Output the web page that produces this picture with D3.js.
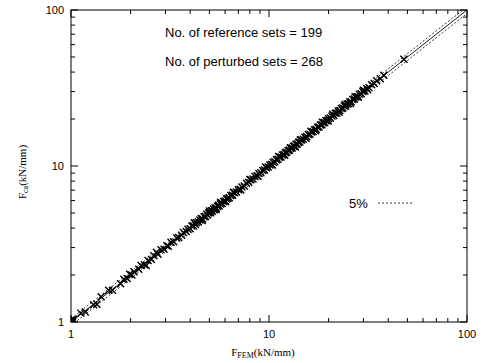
<!DOCTYPE html>
<html>
<head>
<meta charset="utf-8">
<script src="https://d3js.org/d3.v7.min.js"></script>
<style>
  body { margin: 0; background: #fff; }
  .tick-label { font-family: "Liberation Sans", Arial, sans-serif; font-size: 11px; }
  .title { font-family: "Liberation Serif", "Times New Roman", serif; font-size: 11px; }
  .note { font-family: "Liberation Sans", Arial, sans-serif; font-size: 13px; }
</style>
</head>
<body>
<div id="chart"></div>
<script>
// F_FEM (x) and F_ca (y), kN/mm
var fem = [1.0,1.01,1.0,1.02,0.99,1.01,1.03,1.0,1.02,0.99,1.12,1.18,1.3,1.35,1.42,1.55,1.62,1.78,1.85,1.92,1.98,
  2.03,2.08,2.2,2.26,2.35,2.4,2.45,2.55,2.62,2.7,2.75,2.85,2.95,3.05,3.1,3.2,3.3,3.42,3.5,3.62,3.7,3.82,3.9,
  4.0,4.08,4.15,4.25,4.3,4.4,4.48,4.55,4.62,4.7,4.78,4.85,4.9,4.96,5.02,5.08,5.12,5.18,5.25,5.3,5.35,5.42,5.5,
  5.55,5.6,5.68,5.75,5.8,5.9,6.0,6.1,6.2,6.3,6.42,6.55,6.7,6.85,7.0,7.15,7.3,7.5,7.7,7.9,8.1,8.3,8.5,8.7,8.9,
  9.1,9.3,9.5,9.7,9.9,10.1,10.3,10.5,10.7,10.9,11.1,11.3,11.5,11.7,11.9,12.1,12.3,12.5,12.7,12.9,13.1,13.3,
  13.5,13.7,13.9,14.1,14.3,14.6,14.9,15.2,15.5,15.8,16.1,16.4,16.7,17.0,17.3,17.6,17.9,18.2,18.5,18.8,19.1,
  19.4,19.7,20.0,20.4,20.8,21.2,21.6,22.0,22.4,22.8,23.2,23.6,24.0,24.4,24.8,25.2,25.6,26.0,26.5,27.0,27.5,
  28.0,28.6,29.2,29.8,30.5,31.2,32.0,33.0,34.0,35.0,36.5,38.0,48.0,
  4.2,4.6,5.0,5.4,5.7,6.05,6.6,7.2,8.0,8.8,9.6,10.4,11.2,12.0,12.8,13.6,14.4,15.4,16.3,17.2,18.6,19.9,
  21.0,22.6,24.2,25.8,27.2,28.3,30.0,31.5];
var ca = [1.0,1.02,0.98,1.0,1.01,0.99,1.04,1.03,1.03,0.99,1.14,1.16,1.29,1.3,1.45,1.6,1.6,1.76,1.88,1.9,2.02,
  2.0,2.1,2.18,2.3,2.33,2.3,2.48,2.52,2.66,2.8,2.72,2.9,2.93,3.08,3.06,3.24,3.27,3.45,3.48,3.6,3.75,3.8,3.93,
  3.96,4.12,4.14,4.22,4.35,4.38,4.5,4.6,4.58,4.72,4.75,4.9,4.86,5.0,5.05,5.02,5.16,5.15,5.3,5.24,5.4,5.38,5.52,
  5.6,5.54,5.7,5.8,5.74,5.92,5.96,6.15,6.18,6.26,6.46,6.5,6.74,6.82,7.05,7.1,7.34,7.45,7.74,7.86,8.15,8.25,8.56,8.65,8.95,
  9.05,9.36,9.44,9.76,9.85,10.16,10.24,10.56,10.64,10.95,11.05,11.38,11.42,11.76,11.84,12.18,12.24,12.56,12.62,12.98,13.05,13.4,
  13.42,13.8,13.84,14.2,14.24,14.68,14.82,15.3,15.44,15.9,16.0,16.5,16.62,17.1,17.2,17.72,17.8,18.3,18.4,18.9,19.0,
  19.5,19.6,20.1,20.3,20.95,21.1,21.75,21.9,22.55,22.7,23.35,23.5,24.2,24.25,25.0,25.05,25.8,25.85,26.7,26.85,27.7,
  27.8,28.8,29.0,30.0,30.3,31.4,31.8,33.2,33.8,35.2,36.3,38.2,48.3,
  4.32,4.48,5.14,5.26,5.86,5.9,6.78,7.02,8.2,8.6,9.85,10.15,11.5,11.7,13.1,13.25,14.75,15.05,16.7,16.8,19.05,19.45,
  21.5,22.1,24.75,25.2,27.8,27.7,30.6,30.8];
var bandLines = [1.05, 0.95];
var tickValues = [1, 10, 100];
var notes = ["No. of reference sets = 199", "No. of perturbed sets = 268"];

var W = 491, H = 363;
var pL = 71, pR = 467, pT = 10, pB = 322;

var svg = d3.select("#chart").append("svg").attr("width", W).attr("height", H);

var x = d3.scaleLog().domain([1, 100]).range([pL, pR]);
var y = d3.scaleLog().domain([1, 100]).range([pB, pT]);

svg.append("clipPath").attr("id", "clip").append("rect")
  .attr("x", pL).attr("y", pT).attr("width", pR - pL).attr("height", pB - pT);

// frame
svg.append("rect").attr("x", pL).attr("y", pT).attr("width", pR - pL).attr("height", pB - pT)
  .attr("fill", "none").attr("stroke", "#000").attr("stroke-width", 1);

// inward ticks on all four sides
var ticks = [];
[1, 10].forEach(function(d) { for (var k = 1; k <= 10; k++) ticks.push(d * k); });
ticks = Array.from(new Set(ticks));
ticks.forEach(function(t) {
  var len = tickValues.indexOf(t) >= 0 ? 7 : 4;
  svg.append("line").attr("x1", x(t)).attr("x2", x(t)).attr("y1", pB).attr("y2", pB - len).attr("stroke", "#000");
  svg.append("line").attr("x1", x(t)).attr("x2", x(t)).attr("y1", pT).attr("y2", pT + len).attr("stroke", "#000");
  svg.append("line").attr("y1", y(t)).attr("y2", y(t)).attr("x1", pL).attr("x2", pL + len).attr("stroke", "#000");
  svg.append("line").attr("y1", y(t)).attr("y2", y(t)).attr("x1", pR).attr("x2", pR - len).attr("stroke", "#000");
});

tickValues.forEach(function(t) {
  svg.append("text").attr("class", "tick-label").attr("x", x(t)).attr("y", pB + 16)
    .attr("text-anchor", "middle").text(t);
  svg.append("text").attr("class", "tick-label").attr("x", pL - 7).attr("y", y(t) + 4)
    .attr("text-anchor", "end").text(t);
});

var plot = svg.append("g").attr("clip-path", "url(#clip)");

// y = x and the 5% band
plot.append("line").attr("x1", x(1)).attr("y1", y(1)).attr("x2", x(100)).attr("y2", y(100))
  .attr("stroke", "#000").attr("stroke-width", 0.9);
bandLines.forEach(function(f) {
  plot.append("line").attr("x1", x(1)).attr("y1", y(f)).attr("x2", x(100)).attr("y2", y(100 * f))
    .attr("stroke", "#000").attr("stroke-width", 0.8).attr("stroke-dasharray", "2,2");
});

// cross markers
var s = 3.5;
plot.selectAll("path.pt").data(fem).enter().append("path")
  .attr("class", "pt")
  .attr("d", function(v, i) {
    var px = x(v), py = y(ca[i]);
    return "M" + (px - s) + "," + (py - s) + "L" + (px + s) + "," + (py + s) +
           "M" + (px - s) + "," + (py + s) + "L" + (px + s) + "," + (py - s);
  })
  .attr("stroke", "#000").attr("stroke-width", 1.4).attr("fill", "none");

// notes
notes.forEach(function(n, i) {
  svg.append("text").attr("class", "note").attr("x", 165).attr("y", 37 + i * 29).text(n);
});
svg.append("text").attr("class", "note").attr("x", 349).attr("y", 208).text("5%");
svg.append("line").attr("x1", 378).attr("x2", 414).attr("y1", 203).attr("y2", 203)
  .attr("stroke", "#000").attr("stroke-width", 0.8).attr("stroke-dasharray", "2,2");

// axis titles
var xt = svg.append("text").attr("class", "title").attr("x", 263).attr("y", 356).attr("text-anchor", "middle");
xt.append("tspan").text("F");
xt.append("tspan").attr("font-size", "8px").attr("dy", 2).text("FEM");
xt.append("tspan").attr("dy", -2).text("(kN/mm)");

var yt = svg.append("text").attr("class", "title").attr("transform", "translate(26,172) rotate(-90)").attr("text-anchor", "middle");
yt.append("tspan").text("F");
yt.append("tspan").attr("font-size", "8px").attr("dy", 2).text("ca");
yt.append("tspan").attr("dy", -2).text("(kN/mm)");
</script>
</body>
</html>
